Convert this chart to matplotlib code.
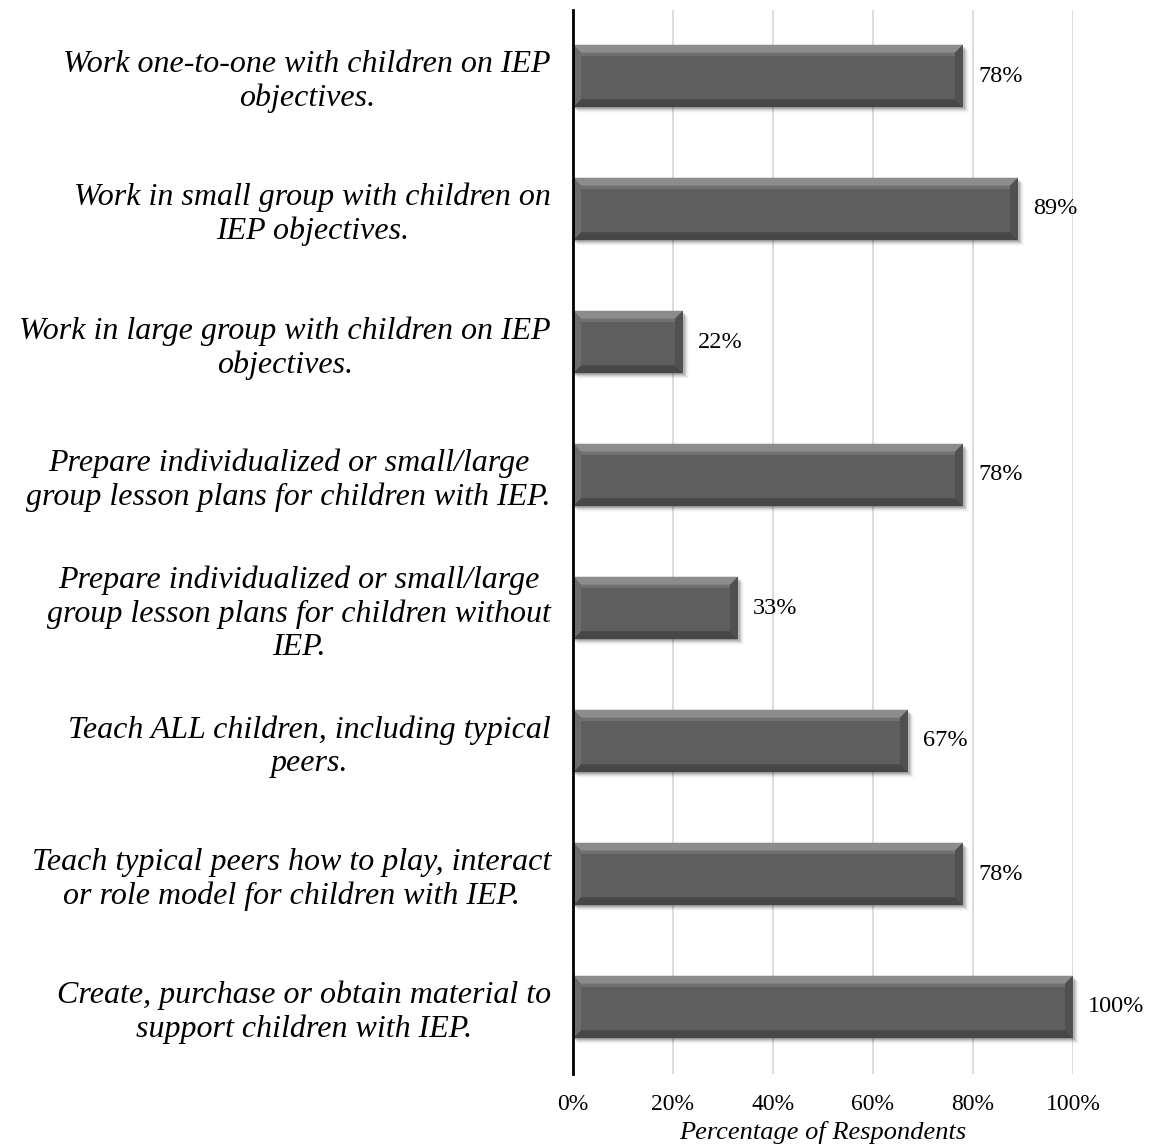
import numpy as np
import matplotlib
matplotlib.use("Agg")
import matplotlib.pyplot as plt
from matplotlib.patches import Polygon, Rectangle
from matplotlib.transforms import IdentityTransform

plt.rcParams['font.family'] = ['Liberation Serif', 'DejaVu Serif']

# survey items, top to bottom
tasks = [
    "Work one-to-one with children on IEP\nobjectives.",
    "Work in small group with children on\nIEP objectives.",
    "Work in large group with children on IEP\nobjectives.",
    "Prepare individualized or small/large\ngroup lesson plans for children with IEP.",
    "Prepare individualized or small/large\ngroup lesson plans for children without\nIEP.",
    "Teach ALL children, including typical\npeers.",
    "Teach typical peers how to play, interact\nor role model for children with IEP.",
    "Create, purchase or obtain material to\nsupport children with IEP.",
]
percent = [78, 89, 22, 78, 33, 67, 78, 100]
xticks = [0, 20, 40, 60, 80, 100]
xtick_labels = ["0%", "20%", "40%", "60%", "80%", "100%"]

fig = plt.figure(figsize=(11.55, 11.46), dpi=100)
ax = fig.add_axes([573 / 1155, 1 - 1073.5 / 1146, 500 / 1155, 1064 / 1146])

ypos = np.arange(len(tasks))
bars = ax.barh(ypos, percent, height=0.47, color="#5e5e5e", zorder=3)

ax.set_ylim(len(tasks) - 0.5, -0.5)
ax.set_xlim(0, 100)
ax.set_xticks(xticks)
ax.set_xticklabels(xtick_labels, fontsize=17)
ax.tick_params(axis="x", length=0, pad=15)
ax.tick_params(axis="y", length=0, pad=16)
ax.set_yticks(ypos)
ax.set_yticklabels(tasks, fontsize=23, style="italic", multialignment="center")
ax.set_xlabel("Percentage of Respondents", fontsize=19, style="italic", labelpad=4)

ax.grid(axis="x", color="#d9d9d9", linewidth=1.3, zorder=0)
for s in ["top", "right", "bottom"]:
    ax.spines[s].set_visible(False)
ax.spines["left"].set_linewidth(2)
ax.spines["left"].set_zorder(6)

for y, v in zip(ypos, percent):
    ax.text(v + 3, y, f"{v}%", va="center", ha="left", fontsize=17.5, zorder=5)

# bevel + soft drop shadow on each bar, done in pixel space
fig.canvas.draw()
bev = 8
tr = IdentityTransform()
for b in bars:
    x0, y0 = ax.transData.transform((b.get_x(), b.get_y()))
    x1, y1 = ax.transData.transform((b.get_x() + b.get_width(), b.get_y() + b.get_height()))
    left, right = min(x0, x1), max(x0, x1)
    bot, top = min(y0, y1), max(y0, y1)
    for k, a in enumerate([0.12, 0.09, 0.06, 0.04, 0.02]):
        ax.add_patch(Rectangle((left + 1 + k, bot - 2 - k), right - left + 1, top - bot,
                               transform=tr, facecolor="black", edgecolor="none",
                               alpha=a, zorder=2, clip_on=False))
    faces = [
        ([(left, top), (right, top), (right - bev, top - bev), (left + bev, top - bev)], "#8c8c8c"),
        ([(left, bot), (right, bot), (right - bev, bot + bev), (left + bev, bot + bev)], "#474747"),
        ([(left, top), (left + bev, top - bev), (left + bev, bot + bev), (left, bot)], "#6c6c6c"),
        ([(right, top), (right - bev, top - bev), (right - bev, bot + bev), (right, bot)], "#505050"),
    ]
    for pts, c in faces:
        ax.add_patch(Polygon(pts, closed=True, transform=tr, facecolor=c, edgecolor="none",
                             zorder=4, clip_on=False))
    # thin highlight band just inside the top bevel
    ax.add_patch(Rectangle((left + bev, top - bev - 3), right - left - 2 * bev, 3,
                           transform=tr, facecolor="#707070", edgecolor="none",
                           zorder=4, clip_on=False))

fig.savefig("out.png", dpi=100)
